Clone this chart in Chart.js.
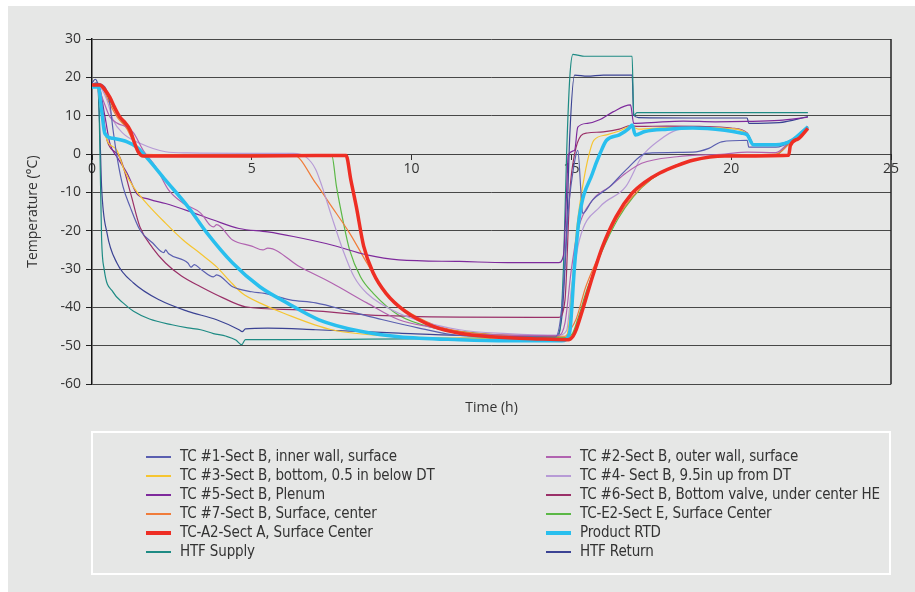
<!DOCTYPE html>
<html>
<head>
<meta charset="utf-8">
<script src="https://cdn.jsdelivr.net/npm/chart.js@4"></script>
<style>
  body { margin: 0; background: #ffffff; }
  #panel { position: absolute; left: 8px; top: 6px; width: 907px; height: 586px; background: #e6e7e6; }
  #wrap { position: absolute; left: 0; top: 0; width: 915px; height: 592px; }
  #legend { position: absolute; left: 91px; top: 431px; width: 800px; height: 144px; border: 2px solid #ffffff; box-sizing: border-box; }
  .item { position: absolute; height: 20px; line-height: 20px; white-space: nowrap; letter-spacing: -0.15px;
          font-family: "Liberation Sans Narrow", "DejaVu Sans Condensed", sans-serif; font-size: 15px; color: #333; }
  .swatch { display: inline-block; width: 25px; vertical-align: middle; margin-right: 9px; }
</style>
</head>
<body>
<div id="panel"></div>
<div id="wrap"><canvas id="tempChart" width="915" height="592"></canvas></div>
<div id="legend"></div>
<script>
// series as [time (h), temperature (°C)] pairs
const tc1 = [[0,18],[0.1,18.5],[0.4,17.5],[0.56,13],[0.66,6.2],[0.8,-1.6],[0.97,-8.5],[1.19,-13.7],[1.5,-19.8],[1.9,-23.2],[2.25,-25.7],[2.3,-25],[2.4,-26],[3.0,-28.4],[3.1,-29.5],[3.2,-28.8],[3.4,-30],[3.8,-32],[3.9,-31.5],[4.4,-34.6],[5.0,-35.9],[5.4,-36.3],[6.2,-38],[7.0,-38.8],[8.06,-41],[9.1,-43.2],[10.2,-45.3],[11.5,-47.3],[13,-47.6],[14.5,-47.7],[14.7,-40],[14.9,-15],[15.1,-2],[15.2,1],[15.3,-10],[15.35,-15.5],[15.66,-12],[16.2,-8.5],[16.7,-4.2],[17.35,0.2],[18.8,0.5],[19.3,1.5],[19.7,3.2],[20.5,3.6],[20.55,1.8],[21.4,1.8],[21.9,3.5],[22.4,7]];
const tc2 = [[0,18],[0.15,18],[0.35,14],[0.56,9.7],[0.8,8],[1.1,7],[1.3,5.5],[1.6,1],[2.0,-3.4],[2.4,-9.4],[2.85,-12.8],[3.4,-15.4],[3.7,-18.6],[3.8,-19],[3.9,-18.4],[4.4,-22.4],[5.0,-24],[5.35,-25],[5.5,-24.5],[6.5,-29.4],[7.5,-33.6],[8.6,-38.8],[9.6,-43.2],[10.7,-45.3],[11.5,-46.7],[13,-47.2],[14.6,-47.3],[14.8,-44],[15.0,-30],[15.2,-20],[15.66,-12],[16.2,-8.5],[16.7,-5],[17.2,-2.4],[18.3,-0.7],[19.8,0],[20.5,0.5],[21.4,0.4],[21.8,3],[22.4,7.2]];
const tc3 = [[0,18],[0.15,18],[0.3,10],[0.47,3.6],[0.78,1],[1.0,-4],[1.3,-8.6],[1.8,-13.7],[2.3,-18],[2.85,-22.4],[3.4,-26],[3.9,-29.4],[4.3,-33],[4.7,-36.3],[5.3,-39],[6.0,-41.5],[7.5,-45.8],[9.6,-47.6],[11.5,-48],[14.8,-48.5],[14.94,-43],[15.15,-20.6],[15.35,-8.5],[15.56,0.2],[15.7,3.6],[16.1,5],[16.5,6],[16.85,7.2],[17.1,6.5],[18,6.9],[19,6.9],[20,6.6],[20.5,5.2],[20.7,2.5],[21.4,2.5],[21.9,3.7],[22.4,7.1]];
const tc4 = [[0,18],[0.15,18],[0.3,17],[0.47,14],[0.66,8.9],[0.97,5.4],[1.5,2.8],[2.3,0.6],[3,0.3],[5,0.2],[6.3,0.2],[6.7,-0.8],[7.0,-4],[7.2,-8.5],[7.5,-16.3],[7.85,-25],[8.2,-32],[8.6,-36.3],[9.6,-41.5],[11.5,-45.8],[13,-46.8],[14.6,-47.2],[14.85,-46],[15.0,-35],[15.25,-22.4],[15.9,-13.7],[16.7,-8.5],[17.2,-0.7],[17.75,3.6],[18.3,6.3],[19,6.9],[20,6.6],[20.5,5.3],[20.7,2.6],[21.4,2.6],[21.9,3.8],[22.4,7.2]];
const tc5 = [[0,18],[0.2,18],[0.4,10],[0.56,2.8],[0.8,-1],[1.1,-5],[1.4,-10.3],[1.8,-11.8],[2.3,-12.9],[3.0,-14.8],[3.8,-17.2],[4.6,-19.4],[5.5,-20.3],[6.3,-21.5],[7.5,-23.7],[8.6,-26.3],[9.6,-27.6],[11.5,-28],[13,-28.3],[14.6,-28.3],[14.75,-26.5],[14.85,-10],[14.9,-0.3],[15.1,1],[15.2,7],[15.5,8],[15.9,9],[16.3,11],[16.85,12.8],[16.95,8],[17.5,8.2],[18.5,8.6],[19.5,8.4],[20.5,8.5],[21.5,8.8],[22.4,9.6]];
const tc6 = [[0,18],[0.2,18],[0.47,3.6],[0.87,-0.8],[1.2,-10],[1.5,-19],[1.9,-24.5],[2.3,-28.4],[2.8,-31.8],[3.4,-34.6],[4.1,-37.5],[4.8,-39.8],[6.5,-40.6],[8.6,-41.9],[11.5,-42.5],[14.6,-42.6],[14.8,-38],[14.95,-10],[15.1,0],[15.3,4.8],[15.5,5.5],[16,5.8],[16.5,6.5],[16.85,7.4],[17.1,7.2],[18,7.3],[19,7.2],[20,6.8],[20.5,5.5],[20.7,2.6],[21.4,2.6],[21.9,3.8],[22.4,7.2]];
const tc7 = [[0,18],[0.3,17.5],[0.5,14],[0.8,9.5],[1.1,6.5],[1.3,3],[1.5,0],[3,-0.2],[6.3,-0.2],[7.0,-7.6],[7.5,-13.7],[8.06,-20.6],[8.6,-28.4],[9.1,-35.4],[9.8,-40.6],[10.7,-44.5],[11.5,-46.2],[13,-47.2],[14.8,-47.5],[14.95,-46],[15.15,-43],[15.45,-34.6],[15.9,-25.8],[16.4,-17.2],[16.9,-11.2],[17.5,-6.5],[18.2,-3.2],[19,-1.2],[20,-0.2],[21.4,0],[21.8,2.5],[22.4,7]];
const tcE2 = [[0,18],[0.3,17.5],[0.55,14],[0.85,9.5],[1.2,5.5],[1.45,0.5],[1.6,-0.3],[5,-0.3],[7.5,-0.3],[7.65,-8.5],[7.85,-17.2],[8.06,-25],[8.4,-32],[8.8,-36.3],[9.6,-42],[10.7,-45.3],[11.5,-46.2],[13,-47.3],[14.85,-47.8],[15.05,-46.5],[15.2,-43],[15.5,-35],[15.95,-25.5],[16.45,-17],[16.95,-11],[17.5,-6.6],[18.2,-3.3],[19,-1.3],[20,-0.3],[21.4,-0.2],[21.8,2.8],[22.4,7]];
const tcA2 = [[0,18],[0.25,18],[0.4,16.8],[0.56,14.8],[0.7,12.3],[0.87,9.7],[1.05,8],[1.19,6.3],[1.3,3.6],[1.45,0.5],[1.6,-0.5],[3,-0.5],[5,-0.5],[7,-0.4],[7.95,-0.4],[8.1,-6.8],[8.27,-13.7],[8.5,-24],[8.8,-31],[9.2,-36.3],[9.8,-41],[10.7,-45],[11.5,-46.7],[12.5,-47.6],[14,-48.2],[14.9,-48.4],[15.05,-47.5],[15.15,-45.8],[15.35,-40.6],[15.66,-32],[15.97,-24.2],[16.4,-16.3],[16.9,-10.2],[17.3,-7.3],[17.75,-5],[18.3,-3],[18.8,-1.6],[19.8,-0.5],[21.8,-0.3],[21.85,2.2],[22.1,4],[22.4,6.7]];
const productRtd = [[0,17.5],[0.2,17.5],[0.3,11.5],[0.4,5.4],[0.66,4.1],[1.1,3.2],[1.4,1.8],[1.7,-0.8],[2.3,-6.8],[3.0,-13.7],[3.6,-20.6],[4.4,-28.4],[5.25,-34.6],[6.1,-38.8],[7.1,-43.2],[8.4,-46.2],[9.6,-47.6],[11.5,-48.4],[13,-48.7],[14.7,-48.7],[14.94,-46.7],[15.1,-29],[15.25,-16.3],[15.66,-5],[15.9,0.2],[16.1,3.6],[16.5,5],[16.8,6.7],[16.9,7.6],[17.0,5],[17.3,5.9],[18,6.5],[18.8,6.8],[19.8,6.2],[20.3,5.5],[20.5,5],[20.7,2.4],[21.4,2.4],[21.9,3.6],[22.4,7.1]];
const htfSupply = [[0,18],[0.15,18.5],[0.2,17],[0.25,0],[0.3,-22],[0.38,-30],[0.66,-36],[1.0,-39],[1.3,-41],[1.8,-43],[2.5,-44.5],[3.0,-45.3],[3.4,-45.8],[3.8,-46.8],[4.2,-47.5],[4.5,-48.5],[4.68,-49.7],[4.8,-48.4],[6,-48.4],[8,-48.3],[10,-48.2],[12,-48],[14,-47.8],[14.6,-47.7],[14.75,-30],[14.85,0],[14.95,20],[15.05,26],[15.2,25.8],[15.4,25.5],[16,25.5],[16.9,25.5],[16.95,10],[17.05,10.8],[18,10.8],[20,10.8],[22.4,10.8]];
const htfReturn = [[0,18.5],[0.1,19.5],[0.18,18],[0.25,5],[0.3,-8.5],[0.47,-20.6],[0.78,-28.4],[1.3,-33.6],[2.1,-38],[3.0,-41],[3.9,-43.2],[4.6,-45.8],[4.7,-46.3],[4.8,-45.6],[5.5,-45.4],[7,-45.8],[9.6,-46.7],[11.5,-47.3],[14.5,-47.6],[14.7,-42.5],[14.85,-20],[14.95,5],[15.1,20.6],[15.5,20.3],[16,20.6],[16.9,20.6],[16.95,10.2],[17.1,9.5],[19,9.4],[20.5,9.4],[20.55,8],[21.5,8.2],[22.4,9.8]];

const seriesNames = [
  'TC #1-Sect B, inner wall, surface', 'TC #2-Sect B, outer wall, surface',
  'TC #3-Sect B, bottom, 0.5 in below DT', 'TC #4- Sect B, 9.5in up from DT',
  'TC #5-Sect B, Plenum', 'TC #6-Sect B, Bottom valve, under center HE',
  'TC #7-Sect B, Surface, center', 'TC-E2-Sect E, Surface Center',
  'TC-A2-Sect A, Surface Center', 'Product RTD',
  'HTF Supply', 'HTF Return'
];
const seriesData = [tc1, tc2, tc3, tc4, tc5, tc6, tc7, tcE2, tcA2, productRtd, htfSupply, htfReturn];
const seriesColors = ['#5a5fb0', '#b163b0', '#f6c530', '#b79bd6', '#7e2a9c', '#9a3068',
                      '#f07c3a', '#5bb846', '#ee2e24', '#29bfee', '#1e8b84', '#3b4394'];
const thickSeries = ['TC-A2-Sect A, Surface Center', 'Product RTD'];

const datasets = seriesNames.map((name, i) => {
  const thick = thickSeries.includes(name);
  return {
    label: name,
    data: seriesData[i].map(p => ({ x: p[0], y: p[1] })),
    borderColor: seriesColors[i],
    borderWidth: thick ? 3.5 : 1.2,
    pointRadius: 0,
    cubicInterpolationMode: 'monotone',
    order: thick ? 0 : 1
  };
});

// frame on the right side of the plot
const rightFrame = {
  id: 'rightFrame',
  afterDatasetsDraw(chart) {
    const { ctx, chartArea } = chart;
    ctx.save();
    ctx.strokeStyle = '#222';
    ctx.lineWidth = 1.5;
    ctx.beginPath();
    ctx.moveTo(chartArea.right, chartArea.top);
    ctx.lineTo(chartArea.right, chartArea.bottom);
    ctx.stroke();
    ctx.restore();
  }
};

const tickFont = { family: '"Open Sans", sans-serif', size: 14 };

new Chart(document.getElementById('tempChart'), {
  type: 'line',
  data: { datasets: datasets },
  options: {
    responsive: false,
    animation: false,
    layout: { padding: { left: 0, top: 39, right: 24, bottom: 176 } },
    scales: {
      x: {
        type: 'linear',
        position: { y: 0 },
        min: 0, max: 25,
        ticks: { stepSize: 5, color: '#333', font: tickFont, padding: 2 },
        grid: { drawOnChartArea: false, tickLength: 5, tickColor: '#333', color: '#333' },
        border: { color: '#444', width: 1 }
      },
      y: {
        min: -60, max: 30,
        ticks: { stepSize: 10, color: '#333', font: tickFont, padding: 5 },
        grid: { color: '#484848', lineWidth: 1, tickLength: 6, tickColor: '#222' },
        border: { color: '#111', width: 1.5 },
        title: { display: true, text: 'Temperature (°C)', color: '#333', font: tickFont, padding: { top: 25 } },
        afterFit: (scale) => { scale.width = 92; }
      }
    },
    plugins: {
      legend: { display: false },
      tooltip: { enabled: false },
      title: {
        display: true, text: 'Time (h)', position: 'bottom', fullSize: false,
        color: '#333', font: { family: '"Open Sans", sans-serif', size: 14, weight: 'normal' },
        padding: { top: 15, bottom: 0 }
      }
    }
  },
  plugins: [rightFrame]
});

// two-column legend below the plot
const legendOrder = [[0, 2, 4, 6, 8, 10], [1, 3, 5, 7, 9, 11]];
const legendBox = document.getElementById('legend');
legendOrder.forEach((col, c) => {
  col.forEach((idx, r) => {
    const item = document.createElement('div');
    item.className = 'item';
    item.style.left = (c === 0 ? 53 : 453) + 'px';
    item.style.top = (13 + r * 19) + 'px';
    const sw = document.createElement('span');
    sw.className = 'swatch';
    sw.style.height = thickSeries.includes(seriesNames[idx]) ? '4px' : '2px';
    sw.style.background = seriesColors[idx];
    item.appendChild(sw);
    item.appendChild(document.createTextNode(seriesNames[idx]));
    legendBox.appendChild(item);
  });
});
</script>
</body>
</html>
